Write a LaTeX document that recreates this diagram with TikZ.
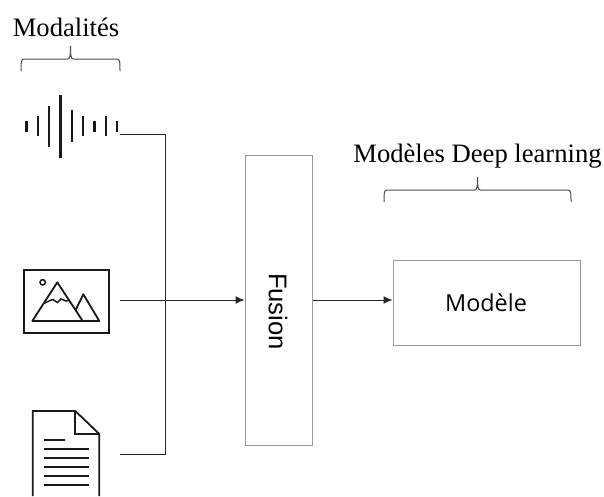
\documentclass[tikz,border=0pt]{standalone}
\usepackage{fontspec}
\setmainfont{Liberation Serif}
\newfontfamily\fusionfont{Liberation Sans}
\newfontfamily\modelefont{Open Sans}
\usetikzlibrary{arrows.meta}
\tikzset{
  titre/.style={anchor=base,inner sep=0pt,font=\fontsize{26.6}{30}\selectfont},
  boite/.style={draw=black!40,line width=1pt,inner sep=0pt},
  liaison/.style={draw=black!85,line width=1pt},
  fleche/.style={liaison,-{Latex[length=9pt,width=8pt]}},
  accolade/.style={draw=black!70,line width=1pt},
  icone/.style={draw=black!90,line width=1.8pt,line join=miter},
}
% gauche, droite, bas de l'accolade
\newcommand{\accolade}[3]{
  \draw[accolade] (#1,#3) .. controls (#1,#3-9) and (#1,#3-12) .. (#1+3,#3-12)
    -- ({(#1+#2)/2-3},#3-12) .. controls ({(#1+#2)/2-0.5},#3-12) and ({(#1+#2)/2},#3-15) .. ({(#1+#2)/2},#3-25)
    .. controls ({(#1+#2)/2},#3-15) and ({(#1+#2)/2+0.5},#3-12) .. ({(#1+#2)/2+3},#3-12)
    -- (#2-3,#3-12) .. controls (#2,#3-12) and (#2,#3-9) .. (#2,#3);
}
\begin{document}
\begin{tikzpicture}[x=1pt,y=-1pt]
  \useasboundingbox (0,0) rectangle (604,496);
  \node[titre] (modalites) at (66,36) {Modalités};
  \node[titre] (modeles) at (477.5,162.7) {Modèles Deep learning};
  \accolade{21}{120}{71}
  \accolade{384}{571}{202}
  % son
  \foreach \px/\hauteur in {26.3/11,37.7/20,49/41,60.3/63,71.7/32,83/20,94.3/11,105.7/20,117/11}
    \draw[icone,line width=2.4pt] (\px,126.3-\hauteur/2) -- (\px,126.3+\hauteur/2);
  % image
  \draw[icone] (23.7,270) rectangle (109,332.7);
  \draw[icone,line width=1.5pt] (42.7,282.3) circle (2.7);
  \draw[icone,line join=round] (82.7,321) -- (57.3,282.3) -- (32.3,321) -- (99.3,321) -- (83.3,294.3) -- (76,309.3);
  \draw[icone,line width=1.5pt] (44.3,303.3) -- (50,300.5) -- (53,299.5) -- (57.3,302.5) -- (61,299) -- (66,301) -- (70,300);
  % texte
  \draw[icone] (32.7,496) -- (32.7,411) -- (75.3,411) -- (99.3,434) -- (99.3,496);
  \draw[icone] (75.3,411) -- (75.3,434) -- (99.3,434);
  \draw[icone] (43.7,440) -- (65.3,440);
  \foreach \py in {449,458,467,476,485}
    \draw[icone] (43.7,\py) -- (89.3,\py);
  % sorties des icones
  \coordinate (son) at (120,134);
  \coordinate (image) at (120,300);
  \coordinate (texte) at (120,454);
  \coordinate (joint) at (165.5,300);
  \node[boite,minimum width=67pt,minimum height=290pt] (fusion) at (278.5,300) {};
  \node[boite,minimum width=187pt,minimum height=85pt] (modele) at (486.5,302.5) {};
  \node[inner sep=0pt,rotate=-90,font=\fusionfont\fontsize{25.6}{28}\selectfont] (fusiontexte) at (278,311.5) {Fusion};
  \node[inner sep=0pt,font=\modelefont\fontsize{23.4}{26}\selectfont] (modeletexte) at (486,303) {Modèle};
  \draw[liaison] (son) -| (joint);
  \draw[liaison] (texte) -| (joint);
  \draw[fleche] (image) -- (fusion.west);
  \draw[fleche] (fusion.east) -- (fusion.east -| modele.west);
\end{tikzpicture}
\end{document}
